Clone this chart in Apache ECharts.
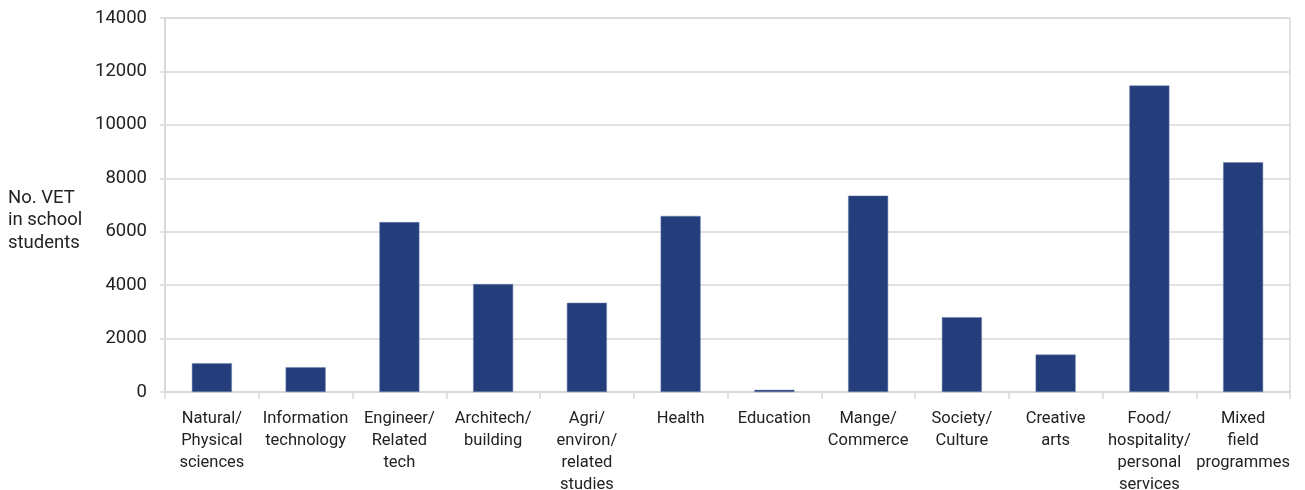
<!DOCTYPE html>
<html>
<head>
<meta charset="utf-8">
<script src="https://cdn.jsdelivr.net/npm/echarts@6/dist/echarts.min.js"></script>
<style>
html,body{margin:0;padding:0;background:#fff;}
#chart{width:1305px;height:490px;}
</style>
</head>
<body>
<div id="chart"></div>
<script>
const categories = [
  "Natural/\nPhysical\nsciences",
  "Information\ntechnology",
  "Engineer/\nRelated\ntech",
  "Architech/\nbuilding",
  "Agri/\nenviron/\nrelated\nstudies",
  "Health",
  "Education",
  "Mange/\nCommerce",
  "Society/\nCulture",
  "Creative\narts",
  "Food/\nhospitality/\npersonal\nservices",
  "Mixed\nfield\nprogrammes"
];
const students = [1080, 930, 6360, 4040, 3340, 6590, 80, 7350, 2800, 1400, 11475, 8600];
const yTicks = { min: 0, max: 14000, interval: 2000 };
const yAxisTitle = "No. VET\nin school\nstudents";

const chart = echarts.init(document.getElementById('chart'));
const FONT = 'Roboto';
chart.setOption({
  animation: false,
  grid: { left: 165, right: 15, top: 18, bottom: 98, outerBoundsMode: 'none', containLabel: false, show: true, borderColor: '#d9d9d9', borderWidth: 1.5, backgroundColor: 'transparent' },
  graphic: [{
    type: 'text', left: 8, top: 187,
    style: { text: yAxisTitle, font: '18.5px ' + FONT, fill: '#222', lineHeight: 22.5 }
  }],
  xAxis: {
    type: 'category',
    data: categories,
    axisLine: { lineStyle: { color: '#d9d9d9', width: 2 } },
    axisTick: { show: true, length: 7, lineStyle: { color: '#d9d9d9', width: 1.5 } },
    axisLabel: { color: '#222', fontFamily: FONT, fontSize: 16.5, lineHeight: 22, margin: 16, interval: 0 }
  },
  yAxis: {
    type: 'value',
    min: yTicks.min, max: yTicks.max, interval: yTicks.interval,
    axisLine: { show: true, lineStyle: { color: '#d9d9d9', width: 2 } },
    axisTick: { show: true, length: 5, lineStyle: { color: '#d9d9d9', width: 1.5 } },
    splitLine: { lineStyle: { color: '#d9d9d9', width: 1.5 } },
    axisLabel: { color: '#222', fontFamily: FONT, fontSize: 18.5, margin: 18, formatter: v => String(v) }
  },
  series: [{
    type: 'bar',
    data: students,
    barWidth: 40,
    itemStyle: { color: '#243e7c', borderColor: '#6c7fab', borderWidth: 0.5 }
  }]
});
</script>
</body>
</html>
